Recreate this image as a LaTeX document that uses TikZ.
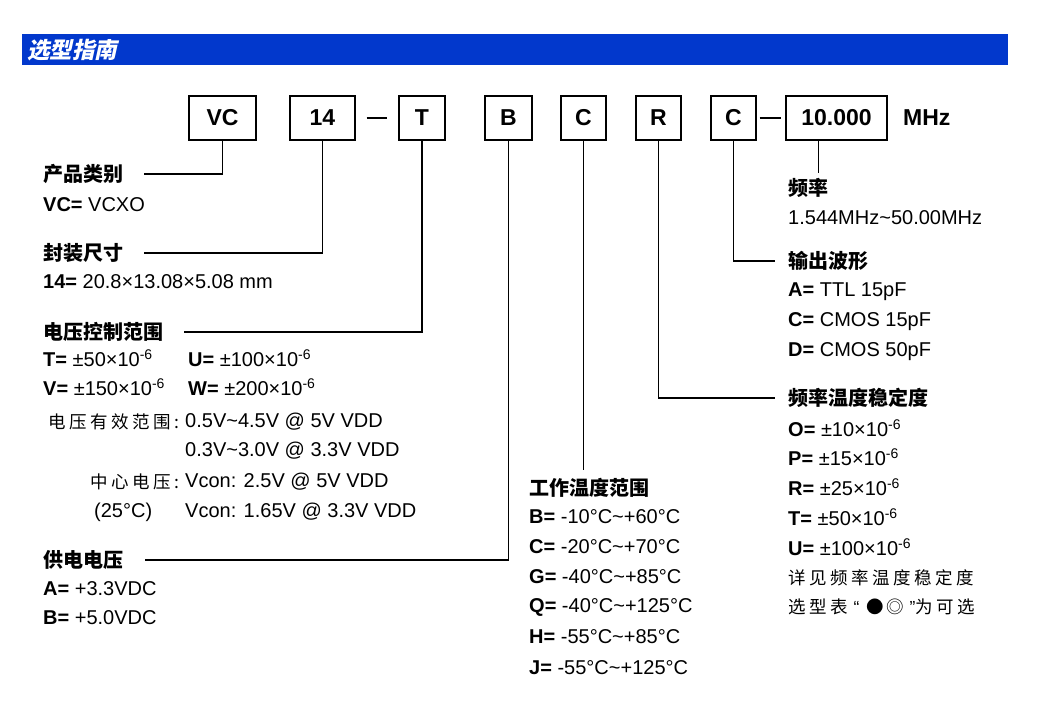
\documentclass[tikz,border=0pt]{standalone}
\usepackage{fontspec}
\setmainfont{Liberation Sans}
\newfontfamily\cjk{Noto Sans CJK SC}
\newfontfamily\cjksp[LetterSpace=20]{Noto Sans CJK SC}
\newfontfamily\cjkit[FakeSlant=0.22]{Noto Sans CJK SC}
\usetikzlibrary{positioning, calc}
\definecolor{cBar}{RGB}{2,56,204}
\newcommand{\optrow}[2]{\textbf{#1=} #2}
\newcommand{\ppmval}[1]{±#1×10\textsuperscript{-6}}
\tikzset{
	codebox/.style={rectangle, draw=black, line width=1.3pt, minimum height=44pt, inner sep=0pt, font=\bfseries\fontsize{23}{26}\selectfont},
	hd/.style     ={anchor=west, inner sep=0pt, font=\cjk\bfseries\fontsize{20}{22}\selectfont},
	txt/.style    ={anchor=west, inner sep=0pt, font=\fontsize{20}{22}\selectfont},
	cntxt/.style  ={inner sep=0pt, font=\cjksp\fontsize{17.5}{20}\selectfont},
	link/.style   ={line width=1.3pt},
}

\begin{document}
\begin{tikzpicture}[x=1pt, y=-1pt]
	\useasboundingbox (0,0) rectangle (1058,720);
	% title bar
	\fill[cBar] (22,34) rectangle (1008,65);
	\node[anchor=west, inner sep=0pt, text=white, font=\cjkit\bfseries\fontsize{22.5}{24}\selectfont] (title) at (27,50) {选型指南};
	% code boxes
	\node[codebox, minimum width=67pt] (bVC) at (222.5,118) {VC};
	\node[codebox, minimum width=65pt] (b14) at (322.5,118) {14};
	\node[codebox, minimum width=46pt] (bT) at (422,118) {T};
	\node[codebox, minimum width=47pt] (bB) at (508.5,118) {B};
	\node[codebox, minimum width=45pt] (bC) at (583.5,118) {C};
	\node[codebox, minimum width=45pt] (bR) at (658.5,118) {R};
	\node[codebox, minimum width=45pt] (bW) at (733.5,118) {C};
	\node[codebox, minimum width=101pt] (bF) at (836.5,118) {10.000};
	\node[anchor=west, inner sep=0pt, font=\bfseries\fontsize{23}{26}\selectfont] (mhz) at (903,118) {MHz};
	\draw[link] ([xshift=11pt]b14.east) -- ([xshift=-11pt]bT.west);
	\draw[link] ([xshift=3pt]bW.east) -- ([xshift=-4pt]bF.west);
	% left column
	\node[hd] (hType) at (43,174) {产品类别};
	\node[txt] (tType) at (43,205) {\optrow{VC}{VCXO}};
	\node[hd] (hPkg) at (43,253) {封装尺寸};
	\node[txt] (tPkg) at (43,282) {\optrow{14}{20.8×13.08×5.08 mm}};
	\node[hd] (hPull) at (43,332) {电压控制范围};
	\node[txt] (tPullT) at (43,358) {\optrow{T}{\ppmval{50}}};
	\node[txt] (tPullU) at (188,358) {\optrow{U}{\ppmval{100}}};
	\node[txt] (tPullV) at (43,387) {\optrow{V}{\ppmval{150}}};
	\node[txt] (tPullW) at (188,387) {\optrow{W}{\ppmval{200}}};
	\node[cntxt, anchor=east] (lRange) at (180,422) {电压有效范围:};
	\node[txt] (tRange1) at (185,422) {0.5V\textasciitilde4.5V @ 5V VDD};
	\node[txt] (tRange2) at (185,451) {0.3V\textasciitilde3.0V @ 3.3V VDD};
	\node[cntxt, anchor=east] (lCenter) at (180,482) {中心电压:};
	\node[txt] (tCenter1) at (185,482) {Vcon: 2.5V @ 5V VDD};
	\node[txt] (lTemp) at (94,512) {(25°C)};
	\node[txt] (tCenter2) at (185,512) {Vcon: 1.65V @ 3.3V VDD};
	\node[hd] (hSup) at (43,560) {供电电压};
	\node[txt] (tSupA) at (43,589) {\optrow{A}{+3.3VDC}};
	\node[txt] (tSupB) at (43,618) {\optrow{B}{+5.0VDC}};
	% middle column
	\node[hd] (hOp) at (529,488) {工作温度范围};
	\node[txt] (tOpB) at (529,517) {\optrow{B}{-10°C\textasciitilde+60°C}};
	\node[txt] (tOpC) at (529,547) {\optrow{C}{-20°C\textasciitilde+70°C}};
	\node[txt] (tOpG) at (529,577) {\optrow{G}{-40°C\textasciitilde+85°C}};
	\node[txt] (tOpQ) at (529,607) {\optrow{Q}{-40°C\textasciitilde+125°C}};
	\node[txt] (tOpH) at (529,637) {\optrow{H}{-55°C\textasciitilde+85°C}};
	\node[txt] (tOpJ) at (529,668) {\optrow{J}{-55°C\textasciitilde+125°C}};
	% right column
	\node[hd] (hFreq) at (788,188) {频率};
	\node[txt] (tFreq) at (788,218) {1.544MHz\textasciitilde50.00MHz};
	\node[hd] (hOut) at (788,261) {输出波形};
	\node[txt] (tOutA) at (788,292) {\optrow{A}{TTL 15pF}};
	\node[txt] (tOutC) at (788,322) {\optrow{C}{CMOS 15pF}};
	\node[txt] (tOutD) at (788,352) {\optrow{D}{CMOS 50pF}};
	\node[hd] (hStab) at (788,398) {频率温度稳定度};
	\node[txt] (tStabO) at (788,428) {\optrow{O}{\ppmval{10}}};
	\node[txt] (tStabP) at (788,457) {\optrow{P}{\ppmval{15}}};
	\node[txt] (tStabR) at (788,487) {\optrow{R}{\ppmval{25}}};
	\node[txt] (tStabT) at (788,517) {\optrow{T}{\ppmval{50}}};
	\node[txt] (tStabU) at (788,547) {\optrow{U}{\ppmval{100}}};
	\node[cntxt, anchor=west] (nStab1) at (788,578) {详见频率温度稳定度};
	\node[cntxt, anchor=west] (nStab2) at (788,607) {选型表{\normalfont\hspace{6pt}“\hspace{7pt}}{\cjk●\hspace{2pt}◎}{\normalfont\hspace{6pt}”}为可选};
	% connectors
	\draw[link] (bVC.south) |- ([xshift=21pt]hType.east);
	\draw[link] (b14.south) |- ([xshift=21pt]hPkg.east);
	\draw[link] (bT.south) |- ([xshift=21pt]hPull.east);
	\draw[link] (bB.south) |- ([xshift=22pt]hSup.east);
	\draw[link] (bC.south) -- ([yshift=8pt]bC.south |- hOp.north);
	\draw[link] (bR.south) |- ([xshift=-13pt]hStab.west);
	\draw[link] (bW.south) |- ([xshift=-13pt]hOut.west);
	\draw[link] ([xshift=-18pt]bF.south) -- ([xshift=-18pt,yshift=5pt]bF.south |- hFreq.north);
\end{tikzpicture}
\end{document}
